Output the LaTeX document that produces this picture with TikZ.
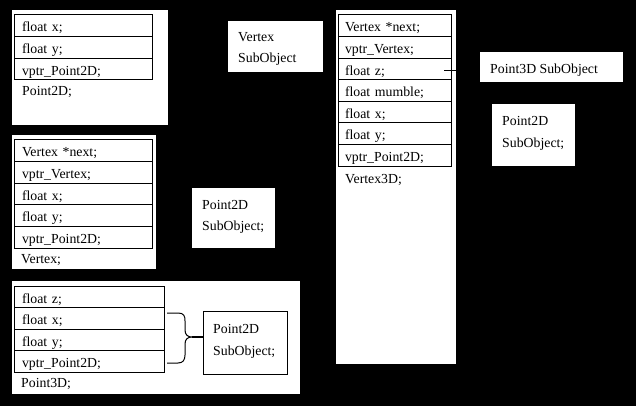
\documentclass[tikz,border=0pt]{standalone}
\usepackage{fontspec}
\setmainfont{Liberation Serif}
\begin{document}
\begin{tikzpicture}[x=1pt,y=-1pt,
  every node/.style={font=\fontsize{13.8pt}{21pt}\selectfont, text=black},
  panel/.style={fill=white, draw=none, anchor=north west, outer sep=0pt, inner sep=0pt},
  framed/.style={fill=white, draw=black, line width=1pt, anchor=north west, outer sep=0pt, inner sep=0pt},
  row/.style={draw=black, line width=1pt, anchor=north west, outer sep=0pt, inner xsep=8pt, inner ysep=0pt,
    minimum height=21.6pt, text height=14.4pt, text depth=2pt, align=left, text width=#1},
  txt/.style={anchor=base west, inner sep=0pt},
  link/.style={draw=black, line width=1pt},
  thicklink/.style={draw=black, line width=2pt}
]
\useasboundingbox (0,0) rectangle (636,406);
\fill[black] (0,0) rectangle (636,406);

% ---------- Point2D ----------
\node[panel, minimum width=156pt, minimum height=115pt] (w1) at (12,10) {};
\foreach \t [count=\i from 0] in {float x;, float y;, vptr\_Point2D;}
  \node[row=122pt] (a\i) at (14,{15+\i*21.6}) {\t};
\node[txt] (la) at (22,96) {Point2D;};

% ---------- Vertex SubObject ----------
\node[panel, minimum width=95pt, minimum height=51pt] (vsub) at (228,21) {};
\node[txt] (vsub1) at (238,42) {Vertex};
\node[txt] (vsub2) at (238,63) {SubObject};

% ---------- Vertex ----------
\node[panel, minimum width=144pt, minimum height=134pt] (w3) at (12,135) {};
\foreach \t [count=\i from 0] in {Vertex *next;, vptr\_Vertex;, float x;, float y;, vptr\_Point2D;}
  \node[row=122pt] (b\i) at (14,{140+\i*21.6}) {\t};
\node[txt] (lb) at (21,263) {Vertex;};

% ---------- middle Point2D SubObject ----------
\node[panel, minimum width=83pt, minimum height=60pt] (msub) at (192,188) {};
\node[txt] (msub1) at (202,209) {Point2D};
\node[txt] (msub2) at (202,230) {SubObject;};

% ---------- Point3D ----------
\node[panel, minimum width=288pt, minimum height=113pt] (w5) at (12,281) {};
\foreach \t [count=\i from 0] in {float z;, float x;, float y;, vptr\_Point2D;}
  \node[row=134pt] (c\i) at (14,{286+\i*21.5}) {\t};
\node[txt] (lc) at (21,387) {Point3D;};

\node[framed, minimum width=84pt, minimum height=63pt] (bsub) at (203,311) {};
\node[txt] (bsub1) at (213,333) {Point2D};
\node[txt] (bsub2) at (213,355) {SubObject;};

% brace
\coordinate (bt) at (192,337);
\draw[link] (167,313) -- (178,313) .. controls (184,313) and (185,316) .. (185,321)
  -- (185,330) .. controls (185,335) and (188,337) .. (bt)
  .. controls (188,337) and (185,339) .. (185,344)
  -- (185,355) .. controls (185,360) and (183,363) .. (178,363) -- (167,363);
\draw[thicklink] (bt) -- (bsub.west |- bt);

% ---------- Vertex3D ----------
\node[panel, minimum width=120pt, minimum height=354pt] (w7) at (336,10) {};
\foreach \t [count=\i from 0] in {Vertex *next;, vptr\_Vertex;, float z;, float mumble;, float x;, float y;, vptr\_Point2D;}
  \node[row=99pt, inner xsep=7pt] (d\i) at (338,{15+\i*21.57}) {\t};
\node[txt] (ld) at (345,183) {Vertex3D;};

% ---------- right sub-objects ----------
\node[panel, minimum width=143pt, minimum height=30pt] (p3sub) at (480,52) {};
\node[txt] (p3t) at (490,74) {Point3D SubObject};

\node[panel, minimum width=83pt, minimum height=62pt] (rsub) at (492,104) {};
\node[txt] (rsub1) at (502,126) {Point2D};
\node[txt] (rsub2) at (502,147) {SubObject;};

\coordinate (zs) at (444,71);
\draw[link] (zs) -- (p3sub.west |- zs);
\end{tikzpicture}
\end{document}
